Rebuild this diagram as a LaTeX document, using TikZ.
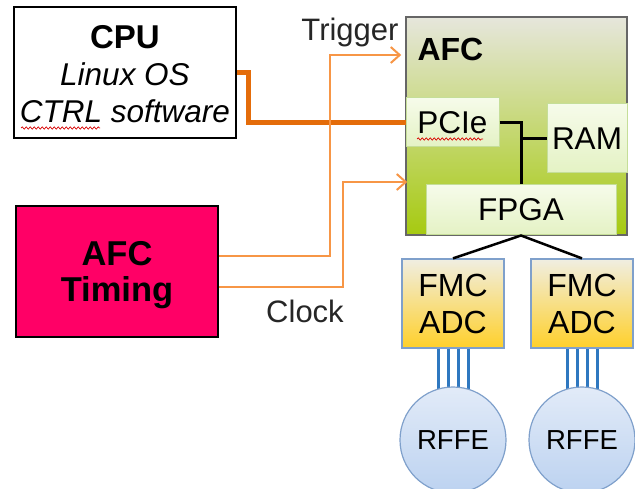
\documentclass[tikz,border=0pt]{standalone}
\usepackage{fontspec}
\setmainfont{Liberation Sans}
\usetikzlibrary{arrows.meta,decorations.pathmorphing,backgrounds}
\definecolor{darkor}{HTML}{E46C0A}
\definecolor{lightor}{HTML}{F79646}
\definecolor{timingred}{HTML}{FF0066}
\definecolor{afctop}{HTML}{E6E6DC}
\definecolor{afcbot}{HTML}{A6CA10}
\definecolor{subtop}{HTML}{F6FBEA}
\definecolor{subbot}{HTML}{E4F2C4}
\definecolor{subbord}{HTML}{C5DE98}
\definecolor{fmctop}{HTML}{F0EEE2}
\definecolor{fmcbot}{HTML}{FFD02A}
\definecolor{bluebord}{HTML}{7FA0CB}
\definecolor{rftop}{HTML}{E2EBF8}
\definecolor{rfbot}{HTML}{BCD2F0}
\definecolor{bluewire}{HTML}{2F78C0}
\tikzset{
  txt/.style={font=\fontsize{31.5}{37}\selectfont, text=black},
  mainbox/.style={draw=black, line width=2pt, inner sep=0pt},
  subbox/.style={draw=subbord, line width=1pt, top color=subtop, bottom color=subbot, inner sep=0pt, txt},
  fmcbox/.style={draw=bluebord, line width=1.2pt, top color=fmctop, bottom color=fmcbot, inner sep=0pt, align=center, font=\fontsize{32}{37}\selectfont, minimum width=102pt, minimum height=89pt},
  rfbox/.style={circle, draw=bluebord, line width=1.2pt, top color=rftop, bottom color=rfbot, inner sep=0pt, minimum size=106pt, font=\fontsize{27.5}{30}\selectfont},
  sig/.style={draw=lightor, line width=2pt, -{Straight Barb[length=9pt,width=16pt,line width=2pt]}},
  pcielink/.style={draw=darkor, line width=5pt},
  bus/.style={draw=black, line width=3pt},
  wire/.style={draw=bluewire, line width=3pt},
  squig/.style={draw=red!85!black, line width=0.7pt, decorate, decoration={snake, amplitude=1.1pt, segment length=4pt}}
}
\begin{document}
\begin{tikzpicture}[x=1pt,y=-1pt]
\useasboundingbox (0,0) rectangle (635,489);

% CPU
\node[mainbox, fill=white, minimum width=222pt, minimum height=131pt] (cpu) at (125,72.5) {};
\node[txt, align=center] (cputxt) at (125,74.5) {{\fontsize{33}{37}\selectfont\textbf{CPU}}\\\textit{Linux OS}\\\textit{CTRL software}};

% AFC Timing
\node[mainbox, fill=timingred, minimum width=202pt, minimum height=131pt] (timing) at (117,271.5) {};
\node[txt, align=center, font=\bfseries\fontsize{34.5}{36}\selectfont] (timingtxt) at (117,275) {AFC\\Timing};

% AFC board
\node[draw=black!60, line width=1.5pt, top color=afctop, bottom color=afcbot, minimum width=221pt, minimum height=218pt, inner sep=0pt] (afc) at (516.5,126) {};
\node[txt, anchor=west, font=\bfseries\fontsize{32}{34}\selectfont] (afclbl) at (414,49) {AFC};
\node[subbox, minimum width=93pt, minimum height=49pt] (pcie) at (452.5,122.5) {PCIe};
\node[subbox, minimum width=80pt, minimum height=69pt] (ram) at (587,138.5) {RAM};
\node[subbox, minimum width=190pt, minimum height=50pt] (fpga) at (521,210) {FPGA};

% internal bus
\draw[bus] (pcie.east) -| (fpga.north);
\draw[bus] (ram.west) -- (ram.west -| fpga.north);

% CPU link
\coordinate (cpubend) at (248,72.5);
\draw[pcielink] (cpu.east) -- (cpubend) |- (pcie.west);

% Trigger and clock
\coordinate (trig) at (330,55);
\coordinate (clk) at (343,182);
\draw[sig, shorten >=4pt] ([yshift=15.5pt]timing.east) -| (trig) -- (afc.west |- trig);
\draw[sig, shorten >=-2pt] ([yshift=-15.5pt]timing.east) -| (clk) -- (afc.west |- clk);
\node[txt, text=black!85, font=\fontsize{31}{37}\selectfont] (triglbl) at (350,32) {Trigger};
\node[txt, text=black!85, font=\fontsize{31}{37}\selectfont] (clklbl) at (305,311) {Clock};

% FMC ADC
\node[fmcbox] (fmc1) at (453,303.5) {FMC\\ADC};
\node[fmcbox] (fmc2) at (582,303.5) {FMC\\ADC};
\draw[draw=black, line width=2.5pt] (fmc1.north) -- (fpga.south) -- (fmc2.north);

% RFFE
\node[rfbox] (rf1) at (453,440) {RFFE};
\node[rfbox] (rf2) at (582,440) {RFFE};
\begin{scope}[on background layer]
\foreach \dx in {-15,-5,5,15}{
  \draw[wire] ([xshift=\dx pt]fmc1.south) -- ([xshift=\dx pt]rf1.center);
  \draw[wire] ([xshift=\dx pt]fmc2.south) -- ([xshift=\dx pt]rf2.center);
}
\end{scope}

% spell-check marks
\draw[squig] (21,128) -- (100,128);
\draw[squig] (417,139) -- (483,139);
\end{tikzpicture}
\end{document}
